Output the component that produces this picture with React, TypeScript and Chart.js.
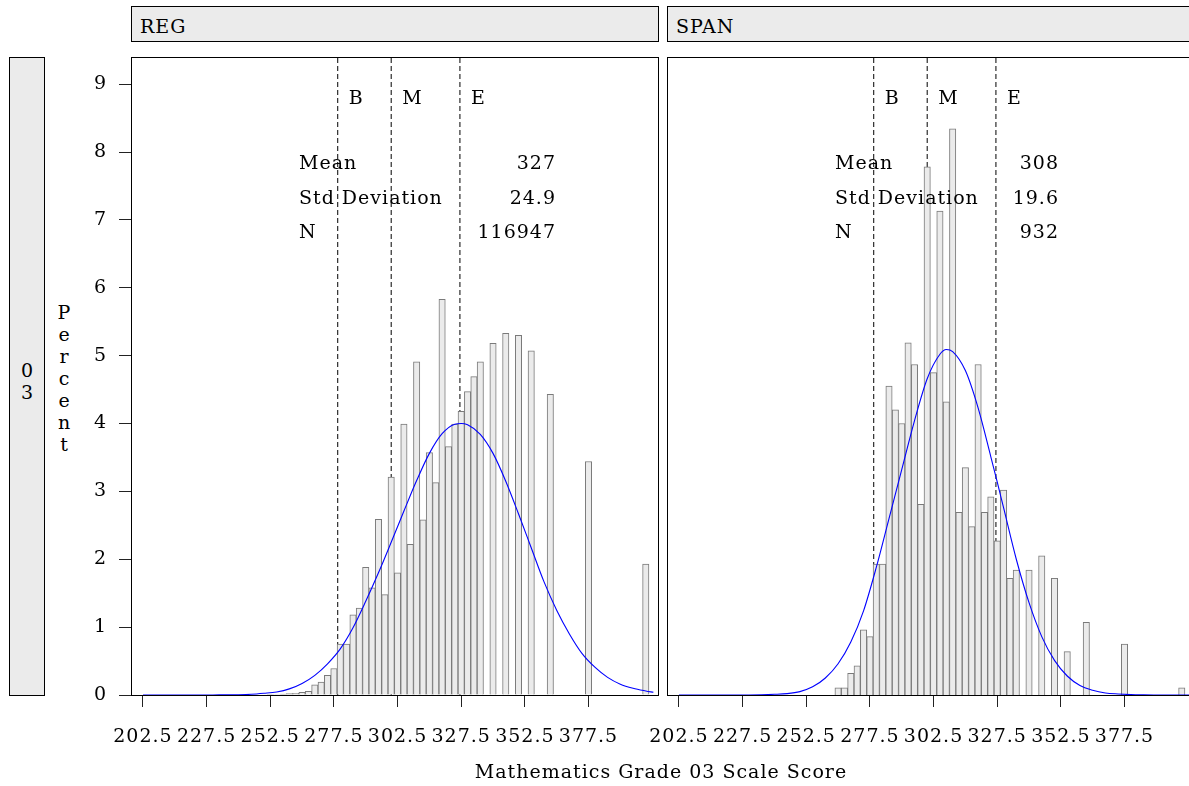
import { useEffect, useRef } from 'react';
import { Chart, registerables } from 'chart.js';

Chart.register(...registerables);

// bin midpoints (width 2.5)
const binCenters = [
  202.5, 205, 207.5, 210, 212.5, 215, 217.5, 220, 222.5, 225,
  227.5, 230, 232.5, 235, 237.5, 240, 242.5, 245, 247.5, 250,
  252.5, 255, 257.5, 260, 262.5, 265, 267.5, 270, 272.5, 275,
  277.5, 280, 282.5, 285, 287.5, 290, 292.5, 295, 297.5, 300,
  302.5, 305, 307.5, 310, 312.5, 315, 317.5, 320, 322.5, 325,
  327.5, 330, 332.5, 335, 337.5, 340, 342.5, 345, 347.5, 350,
  352.5, 355, 357.5, 360, 362.5, 365, 367.5, 370, 372.5, 375,
  377.5, 380, 382.5, 385, 387.5, 390, 392.5, 395, 397.5, 400,
];

const regPercent = [
  0, 0, 0, 0, 0, 0, 0, 0, 0, 0,
  0, 0, 0, 0, 0, 0, 0, 0, 0, 0,
  0.005, 0.008, 0.012, 0.02, 0.025, 0.04, 0.055, 0.15, 0.19, 0.29,
  0.39, 0.75, 0.75, 1.18, 1.28, 1.88, 1.58, 2.59, 1.48, 3.21,
  1.8, 3.99, 2.22, 4.91, 2.58, 3.57, 3.13, 5.83, 3.66, 3.99,
  4.18, 4.47, 4.69, 4.91, 0, 5.18, 0, 5.33, 0, 5.3,
  0, 5.07, 0, 0, 4.43, 0, 0, 0, 0, 0,
  3.44, 0, 0, 0, 0, 0, 0, 0, 0, 1.93,
];

const spanPercent = [
  0, 0, 0, 0, 0, 0, 0, 0, 0, 0,
  0, 0, 0, 0, 0, 0, 0, 0, 0, 0,
  0, 0, 0, 0, 0, 0.107, 0.107, 0.32, 0.43, 0.96,
  0.86, 1.93, 1.93, 4.55, 4.2, 4.0, 5.19, 4.87, 2.81, 7.78,
  4.75, 7.13, 4.32, 8.34, 2.69, 3.35, 2.48, 4.87, 2.69, 2.92,
  2.27, 3.02, 1.72, 1.84, 0, 1.84, 0, 2.05, 0, 1.72,
  0, 0.64, 0, 0, 1.07, 0, 0, 0, 0, 0,
  0.75, 0, 0, 0, 0, 0, 0, 0, 0, 0.107,
];

// normal curves
const curveX = [
  202.5, 210, 220, 230, 240, 245, 250, 255, 260, 265, 270, 275, 280, 285,
  290, 295, 300, 305, 307.5, 310, 315, 320, 325, 327.5, 330, 335, 340, 345,
  350, 355, 360, 365, 370, 375, 380, 385, 390, 395, 400, 403,
];
const regCurve = [
  0, 0, 0, 0.001, 0.004, 0.01, 0.025, 0.045, 0.09, 0.17, 0.29, 0.46, 0.68, 0.99,
  1.38, 1.8, 2.25, 2.71, 2.94, 3.16, 3.56, 3.85, 3.99, 4.0, 3.98, 3.84, 3.56, 3.15,
  2.67, 2.17, 1.67, 1.25, 0.9, 0.61, 0.41, 0.26, 0.16, 0.1, 0.06, 0.04,
];
const spanCurve = [
  0, 0, 0, 0.001, 0.01, 0.02, 0.05, 0.12, 0.25, 0.46, 0.78, 1.24, 1.88, 2.6,
  3.32, 4.04, 4.66, 5.02, 5.09, 5.06, 4.78, 4.23, 3.51, 3.14, 2.76, 2.0, 1.36, 0.86,
  0.51, 0.28, 0.14, 0.07, 0.03, 0.015, 0.006, 0.002, 0, 0, 0, 0,
];

const cutScores = [279, 300, 327];
const cutLabels = ['B', 'M', 'E'];
const xTicks = [202.5, 227.5, 252.5, 277.5, 302.5, 327.5, 352.5, 377.5];
const yTicks = [0, 1, 2, 3, 4, 5, 6, 7, 8, 9];
const statNames = ['Mean', 'Std Deviation', 'N'];
const regStats = ['327', '24.9', '116947'];
const spanStats = ['308', '19.6', '932'];

const FONT = "'DejaVu Serif', serif";
const X_MIN = 197.8;
const X_MAX = 404.8;
const Y_MAX = 9.4;
const H = 786;

const panelDecor = {
  id: 'panelDecor',
  beforeDraw(chart) {
    // the original lettering is a little wider than DejaVu Serif
    chart.ctx.letterSpacing = '1px';
  },
  afterDraw(chart, _args, opts) {
    const { ctx, chartArea: a } = chart;
    const x = chart.scales.x;
    ctx.save();
    ctx.strokeStyle = '#000';
    ctx.lineWidth = 1;
    ctx.strokeRect(Math.round(a.left) + 0.5, Math.round(a.top) + 0.5,
      Math.round(a.right - a.left), Math.round(a.bottom - a.top));

    ctx.fillStyle = '#000';
    ctx.font = `19px ${FONT}`;
    ctx.letterSpacing = '1px';
    ctx.textBaseline = 'alphabetic';
    ctx.textAlign = 'left';
    cutScores.forEach((c, i) => {
      ctx.fillText(cutLabels[i], x.getPixelForValue(c) + 11, a.top + 47);
    });
    statNames.forEach((n, i) => {
      const y = a.top + 112 + i * 34.5;
      ctx.textAlign = 'left';
      ctx.fillText(n, a.left + 168, y);
      ctx.textAlign = 'right';
      ctx.fillText(opts.stats[i], a.left + opts.statsRight + 1, y);
    });
    ctx.restore();
  },
};

interface PanelProps {
  percent: number[];
  curve: number[];
  stats: string[];
  statsRight: number;
  left: number;
  width: number;
  padLeft: number;
  padRight: number;
  showY: boolean;
}

const HistPanel = ({ percent, curve, stats, statsRight, left, width, padLeft, padRight, showY }: PanelProps) => {
  const canvasRef = useRef<HTMLCanvasElement>(null);

  useEffect(() => {
    const ctx = canvasRef.current.getContext('2d');
    const bars = binCenters
      .map((x, i) => ({ x, y: percent[i] }))
      .filter((p) => p.y > 0);

    const chart = new Chart(ctx, {
      type: 'bar',
      data: {
        datasets: [
          {
            type: 'line',
            data: curveX.map((x, i) => ({ x, y: curve[i] })),
            borderColor: '#0000ff',
            borderWidth: 1.1,
            pointRadius: 0,
            cubicInterpolationMode: 'monotone',
            order: 0,
          },
          {
            type: 'bar',
            data: bars,
            backgroundColor: '#ebebeb',
            borderColor: '#7a7a7a',
            borderWidth: 1,
            borderSkipped: 'start',
            barPercentage: 1,
            categoryPercentage: 1,
            order: 1,
          },
          ...cutScores.map((c) => ({
            type: 'line',
            data: [{ x: c, y: 0 }, { x: c, y: Y_MAX }],
            borderColor: '#000',
            borderWidth: 1,
            borderDash: [5, 3],
            pointRadius: 0,
            order: 2,
          })),
        ],
      },
      options: {
        animation: false,
        responsive: false,
        events: [],
        layout: {
          padding: { left: padLeft, right: padRight, top: 57, bottom: 0 },
          autoPadding: false,
        },
        plugins: {
          legend: { display: false },
          tooltip: { enabled: false },
          panelDecor: { stats, statsRight },
        },
        scales: {
          x: {
            type: 'linear',
            min: X_MIN,
            max: X_MAX,
            offset: false,
            afterBuildTicks: (s) => {
              s.ticks = xTicks.map((v) => ({ value: v }));
            },
            afterFit: (s) => {
              s.height = H - 695;
            },
            grid: { drawOnChartArea: false, drawTicks: true, tickLength: 12, color: '#222', offset: false },
            border: { display: false },
            ticks: {
              font: { family: FONT, size: 19 },
              color: '#000',
              padding: 19,
              maxRotation: 0,
              autoSkip: false,
              callback: (v) => Number(v).toFixed(1),
            },
          },
          y: {
            type: 'linear',
            min: 0,
            max: Y_MAX,
            display: showY,
            afterBuildTicks: (s) => {
              s.ticks = yTicks.map((v) => ({ value: v }));
            },
            afterFit: (s) => {
              s.width = showY ? 131 : 0;
            },
            grid: { drawOnChartArea: false, drawTicks: true, tickLength: 12, color: '#222' },
            border: { display: false },
            ticks: {
              font: { family: FONT, size: 19 },
              color: '#000',
              padding: 12,
            },
          },
        },
      },
      plugins: [panelDecor],
    });

    return () => {
      chart.destroy();
    };
  }, [percent, curve, stats, statsRight, padLeft, padRight, showY]);

  return (
    <canvas
      ref={canvasRef}
      width={width}
      height={H}
      style={{ position: 'absolute', left, top: 0, width, height: H }}
    />
  );
};

const strip = (left: number, top: number, width: number, height: number) => ({
  position: 'absolute' as const,
  left,
  top,
  width,
  height,
  boxSizing: 'border-box' as const,
  border: '1px solid #000',
  background: '#ebebeb',
});

const vertical = {
  position: 'absolute' as const,
  writingMode: 'vertical-rl' as const,
  textOrientation: 'upright' as const,
  lineHeight: '22px',
  width: 22,
};

export default function App() {
  return (
    <div
      style={{
        position: 'fixed',
        left: 0,
        top: 0,
        width: 1189,
        height: H,
        overflow: 'hidden',
        background: '#fff',
        fontFamily: FONT,
        fontSize: 19,
        color: '#000',
      }}
    >
      <div style={{ ...strip(131, 6, 528, 36), paddingLeft: 8, lineHeight: '38px', letterSpacing: 1 }}>REG</div>
      <div style={{ ...strip(667, 6, 540, 36), paddingLeft: 8, lineHeight: '38px', letterSpacing: 1 }}>SPAN</div>
      <div style={strip(9, 57, 36, 639)} />
      <div style={{ ...vertical, left: 16, top: 359 }}>03</div>
      <div style={{ ...vertical, left: 53, top: 301 }}>Percent</div>

      <HistPanel
        percent={regPercent}
        curve={regCurve}
        stats={regStats}
        statsRight={424}
        left={0}
        width={662}
        padLeft={0}
        padRight={4}
        showY={true}
      />
      <HistPanel
        percent={spanPercent}
        curve={spanCurve}
        stats={spanStats}
        statsRight={391}
        left={600}
        width={602}
        padLeft={67}
        padRight={8}
        showY={false}
      />

      <div
        style={{
          position: 'absolute',
          left: 361,
          width: 600,
          top: 760,
          lineHeight: '22px',
          textAlign: 'center',
          letterSpacing: 1,
        }}
      >
        Mathematics Grade 03 Scale Score
      </div>
    </div>
  );
}
